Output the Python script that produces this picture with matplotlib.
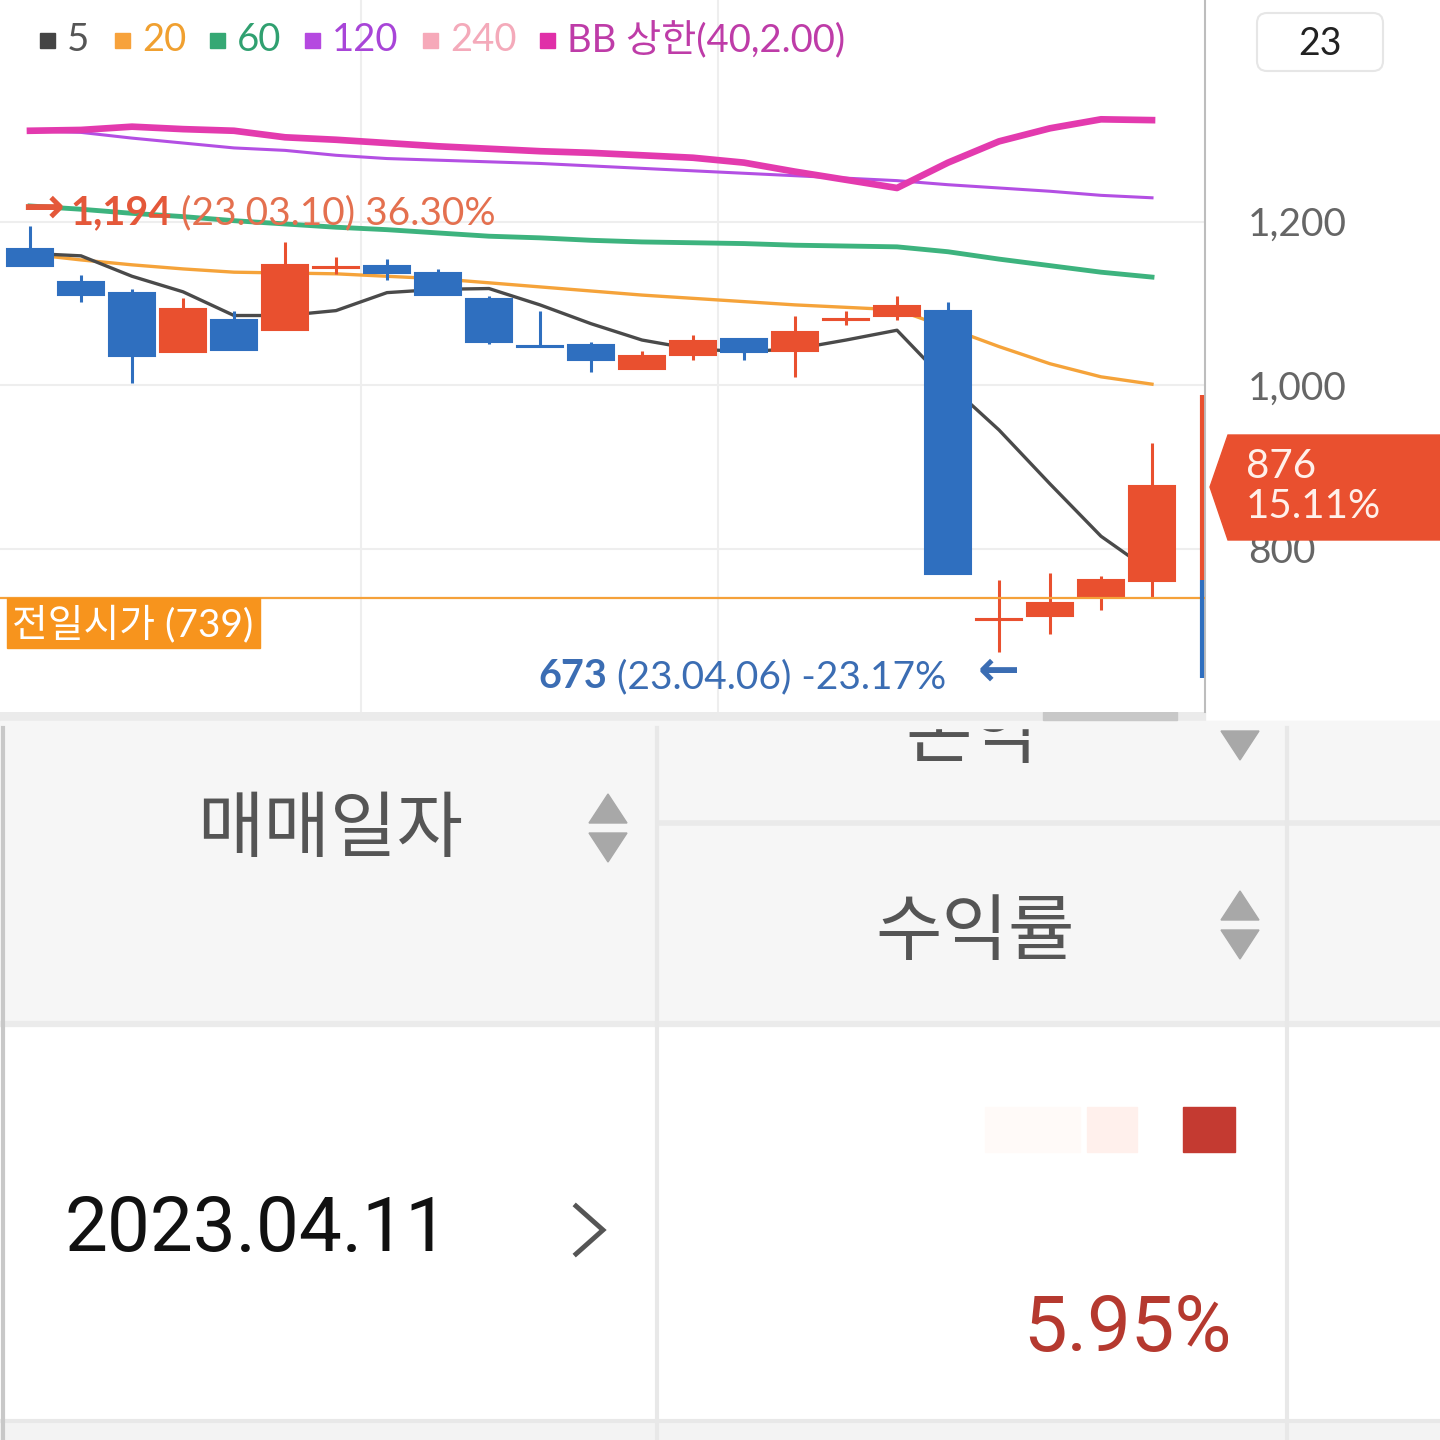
import numpy as np
import matplotlib.pyplot as plt
from matplotlib.patches import Rectangle, Polygon, FancyBboxPatch

plt.rcParams['font.family'] = ['Lato', 'Noto Sans CJK KR', 'DejaVu Sans']

# daily candles (23 trading days, last = 23.04.11)
opens  = [1166, 1126, 1112, 1040, 1080, 1067, 1143, 1146, 1137, 1105, 1048, 1049,
          1020, 1037, 1056, 1042, 1080, 1084, 1090, 713, 717, 741, 760]
highs  = [1194, 1135, 1117, 1106, 1090, 1175, 1156, 1154, 1142, 1109, 1091, 1053,
          1041, 1061, 1056, 1084, 1091, 1109, 1101, 762, 770, 766, 929]
lows   = [1145, 1102, 1002, 1040, 1043, 1067, 1136, 1129, 1110, 1050, 1047, 1016,
          1020, 1031, 1031, 1010, 1073, 1080, 769, 673, 696, 725, 741]
closes = [1145, 1110, 1036, 1093, 1043, 1147, 1144, 1137, 1110, 1053, 1047, 1030,
          1035, 1054, 1040, 1065, 1081, 1097, 769, 714, 733, 762, 876]

# moving averages / bollinger upper band
ma5 = [1161, 1158, 1133, 1114, 1085, 1085, 1091, 1113, 1117, 1118, 1098, 1075,
       1055, 1044, 1041, 1044, 1055, 1067, 1002, 945, 879, 815, 771]
ma20 = [1160, 1153, 1147, 1142, 1138, 1137, 1136, 1133, 1130, 1125, 1120, 1115,
        1110, 1106, 1102, 1098, 1095, 1092, 1070, 1047, 1026, 1010, 1001]
ma60 = [1219, 1215, 1210, 1206, 1201, 1197, 1193, 1190, 1186, 1182, 1180, 1177,
        1175, 1174, 1173, 1171, 1170, 1169, 1163, 1154, 1146, 1138, 1132]
ma120 = [1311, 1309, 1302, 1296, 1290, 1287, 1281, 1277, 1275, 1273, 1271, 1268,
         1265, 1262, 1259, 1256, 1253, 1250, 1245, 1241, 1237, 1232, 1229]
bb_upper = [1311, 1312, 1316, 1313, 1311, 1303, 1300, 1296, 1292, 1289, 1286, 1284,
            1281, 1278, 1272, 1261, 1251, 1241, 1272, 1298, 1314, 1325, 1324]

prev_open = 739
last_price = 876
last_change = '15.11%'
peak_txt = ['1,194', '(23.03.10) 36.30%']
low_txt = ['673', '(23.04.06) -23.17%']
yticks = [800, 1000, 1200]
side_bar = [(988, 762, '#E9502F'), (762, 642, '#2F6FBF')]

legend_labels = ['5', '20', '60', '120', '240', 'BB 상한(40,2.00)']
legend_colors = ['#444444', '#F7A23B', '#35A874', '#B549E0', '#F6A9B9', '#E02FA8']
legend_tcolors = ['#555555', '#F0A030', '#30A070', '#A845D8', '#F4AABA', '#BE3CA8']
legend_x = [40, 115, 210, 305, 423, 540]

RED = '#E9502F'
BLUE = '#2F6FBF'

fig = plt.figure(figsize=(14.4, 14.4), dpi=100)

# background layer in pixel coords (table below the chart)
bg = fig.add_axes([0, 0, 1, 1], zorder=0)
bg.set_xlim(0, 1440)
bg.set_ylim(1440, 0)
bg.axis('off')

# ---- chart
ax = fig.add_axes([0, 1 - 712 / 1440, 1205 / 1440, 712 / 1440], zorder=1)
x = np.arange(len(closes))
ax.set_xlim(-30 / 51, (1205 - 30) / 51)
ax.set_ylim(1000 - 327 / 0.8175, 1000 + 385 / 0.8175)

up = np.array(closes) >= np.array(opens)
cols = np.where(up, RED, BLUE)
ax.vlines(x, lows, highs, colors=cols, lw=2.2, zorder=4)
bottoms = np.minimum(opens, closes)
heights = np.abs(np.array(closes) - np.array(opens))
ax.bar(x, heights, width=0.9, bottom=bottoms, color=cols, edgecolor=cols, lw=1.5, zorder=5)

ax.plot(x, ma60, color='#3DB37E', lw=3.5, zorder=3)
ax.plot(x, ma120, color='#B34FE3', lw=2.2, zorder=3)
ax.plot(x, bb_upper, color='#E33AAE', lw=4.8, zorder=3)
ax.plot(x, ma20, color='#F5A33A', lw=2.4, zorder=3)
ax.plot(x, ma5, color='#4A4A4A', lw=2.4, zorder=3)

ax.axhline(prev_open, color='#F5A13A', lw=1.6, zorder=6)
for top, bot, c in side_bar:
    ax.vlines(len(closes) - 1 + 0.98, bot, top, colors=c, lw=3, zorder=6)

ax.axvline(6.5, color='#EEEEEE', lw=1.5, zorder=0)
ax.axvline(13.5, color='#EEEEEE', lw=1.5, zorder=0)
ax.set_yticks(yticks)
ax.set_yticklabels([f'{v:,}' for v in yticks])
ax.grid(axis='y', color='#EEEEEE', lw=1.5)
ax.set_axisbelow(True)
ax.yaxis.tick_right()
ax.tick_params(axis='y', length=0, pad=31, labelsize=28, labelcolor='#666666')
ax.set_xticks([])
for s in ['top', 'left', 'bottom']:
    ax.spines[s].set_visible(False)
ax.spines['right'].set_color('#BDBDBD')
ax.spines['right'].set_linewidth(1.5)

# ---- top overlay (legend, labels, tag)
ov = fig.add_axes([0, 0, 1, 1], zorder=2)
ov.set_xlim(0, 1440)
ov.set_ylim(1440, 0)
ov.axis('off')
ov.patch.set_alpha(0)

for lx, lab, c, tc in zip(legend_x, legend_labels, legend_colors, legend_tcolors):
    ov.add_patch(Rectangle((lx, 33), 15, 15, color=c))
    ov.text(lx + 27, 40, lab, fontsize=27.5, color=tc, va='center', ha='left')

ov.text(22, 209, '→', fontsize=36, color='#E4583A', fontweight='bold', va='center',
        family=['DejaVu Sans'])
t2 = ov.text(70, 213, peak_txt[0], fontsize=28.5, color='#E4583A', fontweight='bold', va='center')
ov.annotate(' ' + peak_txt[1], xy=(1, 0), xycoords=t2, fontsize=28, color='#E4704F', va='bottom')

t3 = ov.text(538, 677, low_txt[0], fontsize=28.5, color='#3B6DB3', fontweight='bold', va='center')
ov.annotate(' ' + low_txt[1], xy=(1, 0), xycoords=t3, fontsize=28, color='#3B6DB3', va='bottom')
ov.text(978, 672, '←', fontsize=36, color='#3B6DB3', fontweight='bold', va='center',
        family=['DejaVu Sans'])

ov.add_patch(Rectangle((7, 598), 253, 50, color='#F7941D'))
ov.text(12, 624, f'전일시가 ({prev_open})', fontsize=28, color='white', va='center', ha='left')

ov.add_patch(FancyBboxPatch((1257, 13), 126, 58, boxstyle='round,pad=0,rounding_size=10',
                            facecolor='white', edgecolor='#E6E6E6', lw=1.5))
ov.text(1320, 44, '23', fontsize=27, color='#222222', ha='center', va='center')

ov.add_patch(Polygon([(1210, 487), (1228, 435), (1440, 435), (1440, 540), (1228, 540)],
                     closed=True, color=RED))
ov.text(1246, 466, f'{last_price}', fontsize=29, color='#FFF0EA', va='center')
ov.text(1246, 507, last_change, fontsize=29, color='#FFF0EA', va='center')

# ---- table below
bg.text(972, 736, '손익', fontsize=52, color='#555555', ha='center', va='center', zorder=1)
bg.add_patch(Rectangle((0, 721), 1440, 302, color='#F6F6F6', zorder=0))
bg.add_patch(Rectangle((0, 712), 1205, 9, color='#EBEBEB', zorder=2))
bg.add_patch(Rectangle((0, 721), 1440, 7, color='#F6F6F6', zorder=2))
bg.add_patch(Rectangle((1043, 712), 134, 8, color='#C8C8C8', zorder=2))
bg.add_patch(Rectangle((0, 1420), 1440, 20, color='#F3F3F3'))
bg.plot([0, 1440], [1024, 1024], color='#EBEBEB', lw=4.5)
bg.plot([0, 1440], [1421, 1421], color='#E8E8E8', lw=3)
bg.plot([660, 1440], [823, 823], color='#EAEAEA', lw=4)
bg.plot([657, 657], [728, 1440], color='#E8E8E8', lw=3, zorder=3)
bg.plot([1287, 1287], [728, 1440], color='#E8E8E8', lw=3, zorder=3)
bg.plot([3, 3], [728, 1440], color='#C8C8C8', lw=3, zorder=3)

tri = '#A8A8A8'
bg.add_patch(Polygon([(589, 823), (627, 823), (608, 794)], color=tri))
bg.add_patch(Polygon([(589, 833), (627, 833), (608, 862)], color=tri))
bg.add_patch(Polygon([(1221, 920), (1259, 920), (1240, 891)], color=tri))
bg.add_patch(Polygon([(1221, 930), (1259, 930), (1240, 959)], color=tri))
bg.add_patch(Polygon([(1221, 731), (1259, 731), (1240, 760)], color=tri, zorder=3))

bg.text(330, 830, '매매일자', fontsize=52, color='#555555', ha='center', va='center')
bg.text(975, 933, '수익률', fontsize=52, color='#555555', ha='center', va='center')

bg.text(65, 1230, '2023.04.11', fontsize=55, color='#111111', ha='left', va='center',
        family=['Roboto', 'DejaVu Sans'])
bg.plot([576, 603, 576], [1206, 1230, 1254], color='#555555', lw=3.5,
        solid_joinstyle='miter')

bg.add_patch(Rectangle((985, 1107), 95, 45, color='#FFFAF8'))
bg.add_patch(Rectangle((1087, 1107), 50, 45, color='#FFF0EC'))
bg.add_patch(Rectangle((1183, 1107), 52, 45, color='#C43A31'))
bg.text(1232, 1330, '5.95%', fontsize=56, color='#B5392F', ha='right', va='center',
        family=['Roboto', 'DejaVu Sans'])

fig.savefig('out.png', dpi=100)
